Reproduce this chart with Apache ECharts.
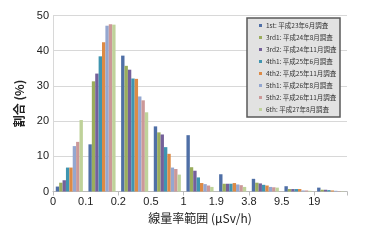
<!DOCTYPE html>
<html><head><meta charset="utf-8">
<script src="https://cdn.jsdelivr.net/npm/echarts@6/dist/echarts.min.js"></script>
<style>html,body{margin:0;padding:0;background:#fff}#c{width:381px;height:247px}</style>
</head><body><div id="c"></div>
<script>
const categories = ["0-0.1","0.1-0.2","0.2-0.5","0.5-1","1-1.9","1.9-3.8","3.8-9.5","9.5-19","19-"];
const boundaryLabels = ["0","0.1","0.2","0.5","1","1.9","3.8","9.5","19",""];
const seriesNames = ["1st: 平成23年6月調査","3rd1: 平成24年8月調査","3rd2: 平成24年11月調査","4th1: 平成25年6月調査","4th2: 平成25年11月調査","5th1: 平成26年8月調査","5th2: 平成26年11月調査","6th: 平成27年8月調査"];
const s1st  = [1.4, 13.4, 38.6, 18.5, 16.0, 4.9, 3.6, 1.5, 1.1];
const s3rd1 = [2.5, 31.3, 35.7, 16.8, 6.9, 2.2, 2.5, 0.7, 0.5];
const s3rd2 = [3.2, 33.5, 34.6, 16.2, 5.9, 2.2, 2.3, 0.7, 0.5];
const s4th1 = [6.8, 38.4, 32.1, 12.6, 4.0, 2.2, 1.9, 0.7, 0.4];
const s4th2 = [6.8, 42.4, 32.0, 10.7, 2.4, 2.4, 1.7, 0.7, 0.3];
const s5th1 = [12.9, 47.1, 27.0, 6.8, 2.1, 2.0, 1.3, 0.3, 0.2];
const s5th2 = [14.1, 47.5, 25.9, 6.4, 1.7, 1.8, 1.2, 0.3, 0.1];
const s6th  = [20.3, 47.4, 22.5, 4.8, 1.3, 1.3, 1.1, 0.2, 0.1];
const allData = [s1st, s3rd1, s3rd2, s4th1, s4th2, s5th1, s5th2, s6th];
const colors = ["#4f6fa6","#9aad5c","#74609a","#3f95b0","#dd8a45","#94a7d0","#cc9898","#bfd29a"];

const chart = echarts.init(document.getElementById('c'));
chart.setOption({
  animation: false,
  color: colors,
  textStyle: {fontFamily: 'Liberation Sans, "Noto Sans CJK JP", sans-serif'},
  grid: {left: 53, right: 34, top: 15.5, bottom: 55.5},
  legend: {
    orient: 'vertical', left: 247, top: 18,
    padding: [3, 3, 3, 12],
    itemWidth: 3, itemHeight: 3, itemGap: 3,
    icon: 'rect',
    backgroundColor: '#e2e2e2', borderColor: '#5a5a5a', borderWidth: 1.5,
    textStyle: {fontSize: 6.5, color: '#333', lineHeight: 9, width: 71, padding: [0,0,0,-1],
      fontFamily: '"Noto Sans CJK JP", sans-serif'},
    data: seriesNames
  },
  xAxis: [{
    type: 'category', data: categories, boundaryGap: true,
    axisLine: {lineStyle: {color: '#bbb'}},
    axisTick: {show: true, alignWithLabel: false, length: 4, lineStyle: {color: '#bbb'}},
    axisLabel: {show: false}
  }, {
    type: 'value', min: 0, max: 9, interval: 1, position: 'bottom',
    axisLine: {show: false}, axisTick: {show: false}, splitLine: {show: false},
    axisLabel: {fontSize: 11, color: '#222', margin: 5,
      formatter: v => boundaryLabels[Math.round(v)] },
    name: '線量率範囲 (µSv/h)', nameLocation: 'middle', nameGap: 20,
    nameTextStyle: {fontSize: 12, color: '#222', fontFamily: '"Noto Sans CJK JP", sans-serif'}
  }],
  yAxis: {
    type: 'value', min: 0, max: 50, interval: 10,
    axisLine: {show: true, lineStyle: {color: '#d8d8d8'}}, axisTick: {show: false},
    splitLine: {lineStyle: {color: '#d8d8d8'}},
    axisLabel: {fontSize: 11, color: '#222', margin: 4},
    name: '割合 (%)', nameLocation: 'middle', nameGap: 19, nameRotate: 90,
    nameTextStyle: {fontSize: 12, color: '#222', fontWeight: 'bold', fontFamily: '"Noto Sans CJK JP", sans-serif'}
  },
  series: allData.map((d, i) => ({
    name: seriesNames[i], type: 'bar', xAxisIndex: 0, data: d,
    barGap: '0%', barCategoryGap: '17%'
  }))
});
</script></body></html>
